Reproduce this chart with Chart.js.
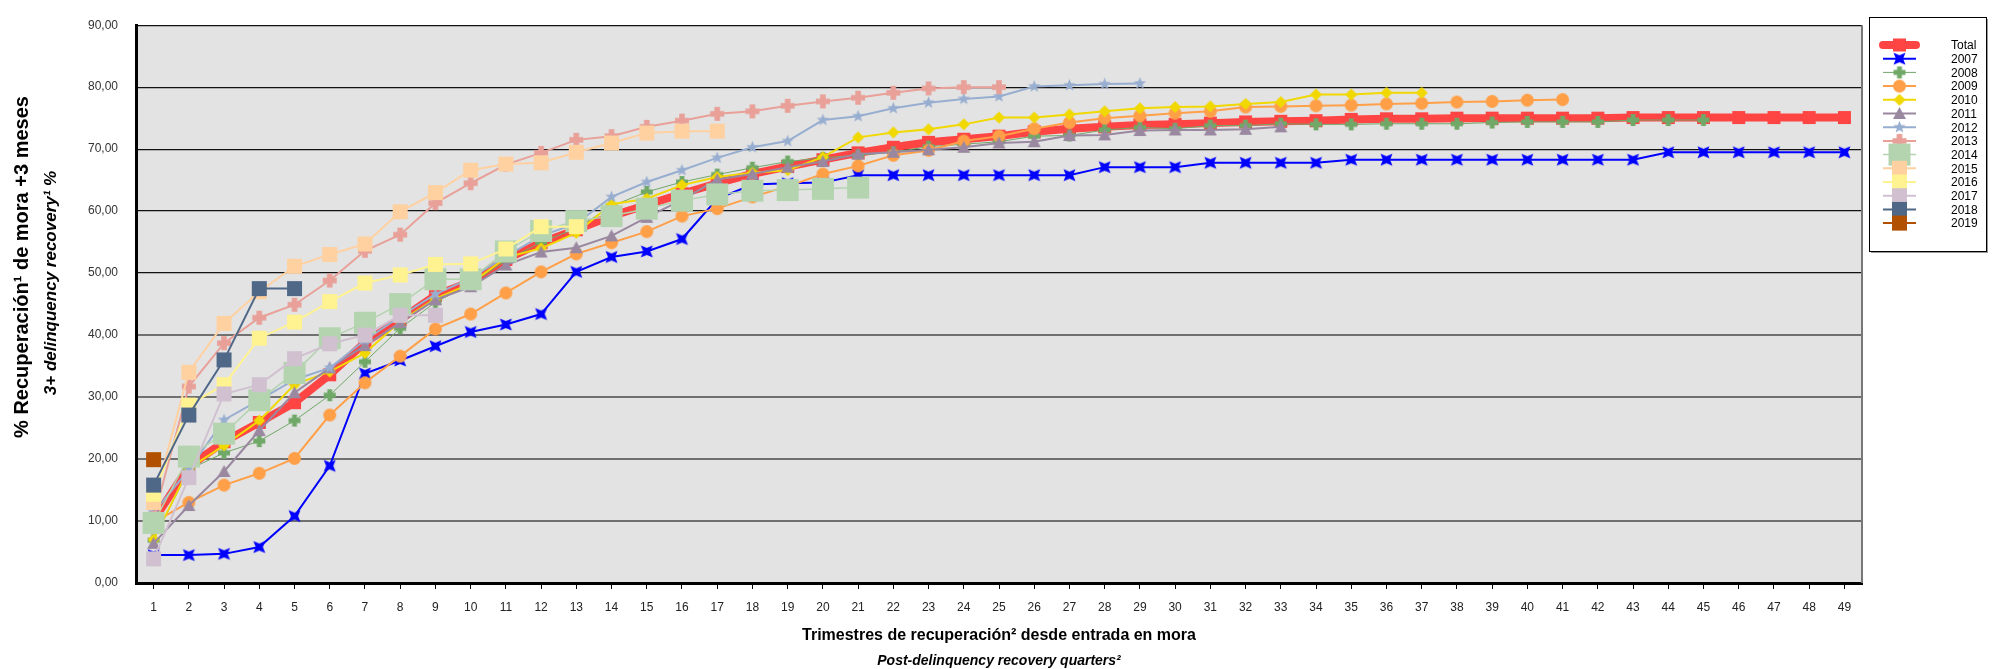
<!DOCTYPE html>
<html>
<head>
<meta charset="utf-8">
<script src="https://cdn.jsdelivr.net/npm/chart.js@4.4.1/dist/chart.umd.min.js"></script>
<style>
  html, body { margin: 0; padding: 0; background: #fff; }
  #wrap { width: 1992px; height: 669px; }
</style>
</head>
<body>
<div id="wrap"><canvas id="chart" width="1992" height="669"></canvas></div>
<script>
// Quarters since entering delinquency, recovery % per cohort year
const quarters = ["1","2","3","4","5","6","7","8","9","10","11","12","13","14","15","16","17",
  "18","19","20","21","22","23","24","25","26","27","28","29","30","31","32","33","34","35",
  "36","37","38","39","40","41","42","43","44","45","46","47","48","49"]

const total = [10.1, 18.8, 22.8, 25.9, 29.1, 33.6, 38.8, 42.5, 46.4, 48.6,
  52.2, 54.9, 57.0, 59.2, 61.0, 62.8, 64.5, 66.0, 67.2, 68.3,
  69.4, 70.3, 71.1, 71.6, 72.1, 72.8, 73.3, 73.6, 73.9, 74.0,
  74.2, 74.4, 74.5, 74.6, 74.8, 74.9, 74.9, 75.0, 75.0, 75.0,
  75.0, 75.0, 75.1, 75.1, 75.1, 75.1, 75.1, 75.1, 75.1]
const y2007 = [4.5, 4.5, 4.7, 5.8, 10.8, 18.9, 33.8, 35.9, 38.2, 40.5,
  41.7, 43.4, 50.2, 52.6, 53.5, 55.5, 62.0, 64.3, 64.5, 64.6,
  65.8, 65.8, 65.8, 65.8, 65.8, 65.8, 65.8, 67.1, 67.1, 67.1,
  67.8, 67.8, 67.8, 67.8, 68.3, 68.3, 68.3, 68.3, 68.3, 68.3,
  68.3, 68.3, 68.3, 69.5, 69.5, 69.5, 69.5, 69.5, 69.5]
const y2008 = [6.9, 18.3, 21.0, 22.9, 26.2, 30.3, 35.7, 41.1, 45.3, 48.2,
  52.0, 55.0, 57.2, 60.8, 63.1, 64.7, 65.9, 67.0, 68.0, 68.6,
  69.0, 69.5, 70.4, 70.8, 71.2, 72.1, 72.2, 73.1, 73.5, 73.3,
  73.8, 73.8, 74.1, 74.0, 74.0, 74.1, 74.1, 74.1, 74.3, 74.4,
  74.4, 74.4, 74.7, 74.7, 74.7]
const y2009 = [9.8, 13.0, 15.8, 17.7, 20.1, 27.1, 32.3, 36.6, 41.0, 43.4,
  46.8, 50.2, 53.1, 54.9, 56.7, 59.2, 60.4, 62.3, 64.0, 66.0,
  67.3, 69.0, 69.8, 71.3, 72.1, 73.3, 74.3, 75.0, 75.4, 75.8,
  76.1, 76.8, 76.9, 77.0, 77.1, 77.3, 77.4, 77.6, 77.7, 77.9, 78.0]
const y2010 = [7.0, 18.5, 22.2, 26.2, 32.0, 34.1, 37.1, 42.2, 45.9, 48.3,
  52.5, 54.0, 56.5, 61.1, 62.0, 64.2, 65.5, 66.2, 66.6, 68.7,
  71.9, 72.7, 73.2, 74.0, 75.1, 75.1, 75.6, 76.1, 76.6, 76.8,
  76.9, 77.3, 77.6, 78.8, 78.8, 79.1, 79.1]
const y2011 = [6.4, 12.5, 18.0, 24.6, 30.7, 34.7, 38.3, 42.0, 45.7, 47.8,
  51.3, 53.4, 54.1, 56.0, 59.0, 61.8, 65.1, 66.0, 67.1, 68.0,
  69.2, 69.5, 69.9, 70.3, 71.0, 71.2, 72.2, 72.3, 73.0, 73.1,
  73.1, 73.2, 73.6]
const y2012 = [11.4, 18.3, 26.3, 29.5, 32.8, 34.7, 39.2, 43.0, 46.6, 49.2,
  52.7, 56.0, 58.0, 62.3, 64.7, 66.6, 68.6, 70.3, 71.3, 74.7,
  75.3, 76.6, 77.5, 78.1, 78.5, 80.1, 80.3, 80.5, 80.6]
const y2013 = [10.5, 31.7, 38.7, 42.8, 44.9, 48.8, 53.6, 56.2, 61.3, 64.5,
  67.5, 69.4, 71.5, 72.1, 73.6, 74.6, 75.7, 76.1, 77.0, 77.7,
  78.3, 79.1, 79.8, 80.0, 80.0]
const y2014 = [9.7, 20.4, 24.1, 29.5, 33.9, 39.5, 42.0, 45.0, 49.0, 49.0,
  53.5, 56.8, 58.4, 59.2, 60.4, 61.7, 62.7, 63.3, 63.4, 63.6, 63.8]
const y2015 = [13.0, 34.0, 41.9, 47.0, 51.1, 53.0, 54.7, 59.9, 63.0, 66.6,
  67.6, 67.8, 69.5, 71.0, 72.6, 72.9, 72.9]
const y2016 = [14.3, 28.7, 32.0, 39.5, 42.1, 45.4, 48.4, 49.7, 51.4, 51.5, 53.9, 57.5, 57.5]
const y2017 = [3.9, 17.0, 30.5, 32.0, 36.2, 38.6, 40.0, 43.2, 43.2]
const y2018 = [15.8, 27.1, 36.0, 47.5, 47.5]
const y2019 = [19.9]

const FONT = "'Liberation Sans', Arial, sans-serif"

// small canvases used as point markers
function starPath(g, cx, cy, n, rOut, rIn, rot) {
  for (let i = 0; i < n * 2; i++) {
    const r = i % 2 === 0 ? rOut : rIn
    const a = rot + i * Math.PI / n
    const x = cx + r * Math.sin(a), y = cy - r * Math.cos(a)
    if (i === 0) g.moveTo(x, y); else g.lineTo(x, y)
  }
}

function marker(shape, color, size) {
  const c = document.createElement("canvas")
  c.width = c.height = size + 2
  const g = c.getContext("2d")
  const m = (size + 2) / 2, r = size / 2
  g.fillStyle = color
  g.beginPath()
  if (shape === "square") g.rect(m - r, m - r, size, size)
  else if (shape === "circle") g.arc(m, m, r, 0, Math.PI * 2)
  else if (shape === "diamond") { g.moveTo(m, m - r); g.lineTo(m + r, m); g.lineTo(m, m + r); g.lineTo(m - r, m) }
  else if (shape === "triangle") { g.moveTo(m, m - r); g.lineTo(m + r, m + r * 0.85); g.lineTo(m - r, m + r * 0.85) }
  else if (shape === "plus") {
    const a = r * 0.4
    g.rect(m - a, m - r, 2 * a, 2 * r)
    g.rect(m - r, m - a, 2 * r, 2 * a)
  }
  else if (shape === "xstar") starPath(g, m, m, 4, r, r * 0.42, Math.PI / 4)
  else if (shape === "star") starPath(g, m, m, 5, r, r * 0.42, 0)
  g.closePath()
  g.fill()
  return c
}

function line(label, data, color, width, shape, size, order) {
  return {
    label, data, order,
    borderColor: color,
    backgroundColor: color,
    borderWidth: width,
    pointStyle: marker(shape, color, size),
    pointRadius: size / 2,
    tension: 0,
    fill: false
  }
}

const datasets = [
  line("Total", total, "#ff4444", 8, "square", 13, 20),
  line("2007", y2007, "#0000ff", 2, "xstar", 17, 19),
  line("2008", y2008, "#70a868", 1, "plus", 12, 18),
  line("2009", y2009, "#ffa048", 2, "circle", 13, 17),
  line("2010", y2010, "#f0d800", 2, "diamond", 12, 16),
  line("2011", y2011, "#9a88a0", 2, "triangle", 13, 15),
  line("2012", y2012, "#98aed0", 2, "star", 13, 14),
  line("2013", y2013, "#e8a098", 2, "plus", 14, 13),
  line("2014", y2014, "#b4d4b0", 1.5, "square", 22, 12),
  line("2015", y2015, "#ffd0a0", 2, "square", 15, 11),
  line("2016", y2016, "#fff290", 2, "square", 15, 10),
  line("2017", y2017, "#d0c0d0", 2, "square", 15, 9),
  line("2018", y2018, "#506888", 2, "square", 15, 8),
  line("2019", y2019, "#b05000", 2, "square", 15, 7)
]

// grey plot background, right frame, axis titles and legend box
const frame = {
  id: "frame",
  beforeDraw(chart) {
    const { ctx, chartArea: a } = chart
    ctx.save()
    ctx.fillStyle = "#e3e3e3"
    ctx.fillRect(a.left, a.top, a.right - a.left, a.bottom - a.top)
    ctx.restore()
  },
  afterDraw(chart) {
    const { ctx, chartArea: a } = chart
    ctx.save()
    ctx.strokeStyle = "#777"
    ctx.lineWidth = 2
    ctx.beginPath()
    ctx.moveTo(a.right, a.top)
    ctx.lineTo(a.right, a.bottom)
    ctx.stroke()

    ctx.fillStyle = "#000"
    ctx.textAlign = "center"
    ctx.textBaseline = "middle"
    const cx = (a.left + a.right) / 2
    ctx.font = "bold 16px " + FONT
    ctx.fillText("Trimestres de recuperación² desde entrada en mora", cx, 636)
    ctx.font = "italic bold 14px " + FONT
    ctx.fillText("Post-delinquency recovery quarters²", cx, 661)

    ctx.save()
    ctx.translate(22, 267)
    ctx.rotate(-Math.PI / 2)
    ctx.font = "bold 20px " + FONT
    ctx.fillText("% Recuperación¹ de mora +3 meses", 0, 0)
    ctx.restore()
    ctx.save()
    ctx.translate(51, 283)
    ctx.rotate(-Math.PI / 2)
    ctx.font = "italic bold 17px " + FONT
    ctx.fillText("3+ delinquency recovery¹ %", 0, 0)
    ctx.restore()

    const lx = 1869, ly = 17, lw = 117, lh = 234
    ctx.fillStyle = "#999"
    ctx.fillRect(lx + 2, ly + lh, lw, 2)
    ctx.fillRect(lx + lw, ly + 2, 2, lh)
    ctx.fillStyle = "#fff"
    ctx.fillRect(lx, ly, lw, lh)
    ctx.strokeStyle = "#000"
    ctx.lineWidth = 1
    ctx.strokeRect(lx + 0.5, ly + 0.5, lw, lh)

    ctx.textAlign = "left"
    ctx.font = "12px " + FONT
    chart.data.datasets.forEach((ds, i) => {
      const y = 45 + i * 13.7
      ctx.strokeStyle = ds.borderColor
      ctx.lineWidth = ds.borderWidth
      ctx.lineCap = i === 0 ? "round" : "butt"
      ctx.beginPath()
      ctx.moveTo(1883, y)
      ctx.lineTo(1916, y)
      ctx.stroke()
      const img = ds.pointStyle
      ctx.drawImage(img, 1899.5 - img.width / 2, y - img.height / 2)
      ctx.fillStyle = "#000"
      ctx.fillText(ds.label, 1951, y + 1)
    })
    ctx.restore()
  }
}

new Chart(document.getElementById("chart"), {
  type: "line",
  data: { labels: quarters, datasets },
  options: {
    responsive: false,
    animation: false,
    devicePixelRatio: 1,
    layout: { padding: { left: 0, right: 130, top: 18, bottom: 0 } },
    plugins: {
      legend: { display: false },
      tooltip: { enabled: false }
    },
    scales: {
      x: {
        offset: true,
        grid: { drawOnChartArea: false, drawTicks: true, tickLength: 6, color: "#000", lineWidth: 1 },
        border: { color: "#000", width: 3 },
        ticks: { font: { size: 12, family: FONT }, color: "#222", padding: 11, maxRotation: 0, autoSkip: false },
        afterFit(s) { s.height = 86 }
      },
      y: {
        min: 0,
        max: 90,
        ticks: {
          stepSize: 10,
          font: { size: 12, family: FONT },
          color: "#333",
          padding: 18,
          callback: v => v.toFixed(2).replace(".", ",")
        },
        grid: {
          drawTicks: false,
          color: c => c.tick.value >= 50 ? "#111" : "#707070",
          lineWidth: c => c.tick.value >= 50 ? 1.3 : 2
        },
        border: { color: "#000", width: 3 },
        afterFit(s) { s.width = 136 }
      }
    }
  },
  plugins: [frame]
})
</script>
</body>
</html>
